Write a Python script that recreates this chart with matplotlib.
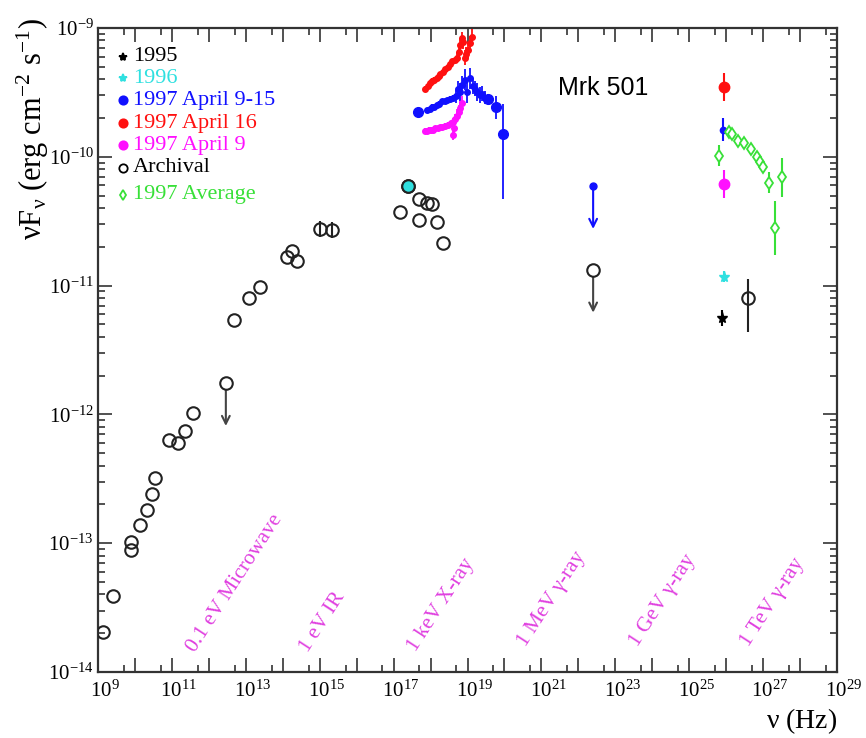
import numpy as np
import matplotlib
matplotlib.use('Agg')
import matplotlib.pyplot as plt
import matplotlib.transforms as mtransforms
from matplotlib.ticker import FixedLocator, FuncFormatter, LogLocator, NullFormatter

plt.rcParams['font.family'] = ['Liberation Serif', 'DejaVu Serif']
plt.rcParams['mathtext.fontset'] = 'stix'

RED = '#ff1010'
BLUE = '#1010ff'
MAGENTA = '#ff10ff'
CYAN = '#30e0e0'
GREEN = '#38e038'
BAND = '#e040e0'

# all values as log10(nu / Hz) and log10(nuFnu / erg cm^-2 s^-1)
arch_lognu = [9.14, 9.41, 9.89, 9.89, 10.14, 10.33, 10.46, 10.54, 10.92, 11.17,
              11.35, 11.57, 12.68, 13.09, 13.38, 14.12, 14.25, 14.39, 15.01, 15.33,
              17.17, 17.39, 17.69, 17.90, 18.04, 17.69, 18.17, 18.34, 26.59]
arch_logf = [-13.69, -13.41, -12.99, -13.05, -12.86, -12.74, -12.62, -12.49, -12.20, -12.22,
             -12.13, -11.99, -11.27, -11.10, -11.01, -10.78, -10.73, -10.81, -10.56, -10.57,
             -10.43, -10.23, -10.33, -10.36, -10.37, -10.49, -10.51, -10.67, -11.10]
arch_err_lo = [0] * 18 + [0.06, 0.06] + [0] * 8 + [0.26]
arch_err_hi = [0] * 18 + [0.06, 0.06] + [0] * 8 + [0.15]

# upper limits
ul_lognu = [12.46, 22.40]
ul_logf = [-11.76, -10.88]
ul_blue_lognu = [22.40]
ul_blue_logf = [-10.23]
ul_len = 0.33

# 1996 X-ray point (cyan) on top of the archival one
x96_lognu = [17.39]
x96_logf = [-10.23]

# 1997 X-ray spectra
red_x_lognu = [17.85, 17.92, 17.98, 18.04, 18.09, 18.17, 18.22, 18.26, 18.34, 18.40,
               18.47, 18.53, 18.58, 18.66, 18.72, 18.76, 18.80, 18.85, 18.88, 18.93,
               18.97, 19.01, 19.07, 19.12]
red_x_logf = [-9.47, -9.45, -9.43, -9.41, -9.40, -9.39, -9.37, -9.36, -9.34, -9.32,
              -9.30, -9.28, -9.26, -9.25, -9.23, -9.19, -9.13, -9.08, -9.11, -9.23,
              -9.20, -9.17, -9.12, -9.07]
red_x_err = [0.02] * 14 + [0.04, 0.04, 0.05, 0.05, 0.05, 0.06, 0.05, 0.06, 0.06, 0.06]

blue_x_lognu = [17.66, 17.90, 17.98, 18.04, 18.10, 18.17, 18.24, 18.31, 18.38, 18.45,
                18.53, 18.61, 18.68, 18.74, 18.80, 18.85, 18.93, 18.99, 19.07, 19.14,
                19.20, 19.27, 19.34, 19.40, 19.47]
blue_x_logf = [-9.65, -9.64, -9.63, -9.61, -9.61, -9.60, -9.59, -9.57, -9.57, -9.56,
               -9.55, -9.54, -9.53, -9.47, -9.50, -9.44, -9.40, -9.50, -9.39, -9.45,
               -9.47, -9.50, -9.52, -9.51, -9.54]
blue_x_err = [0.02] * 12 + [0.05, 0.06, 0.07, 0.07, 0.08, 0.08, 0.08, 0.06, 0.06, 0.07,
                            0.06, 0.06, 0.05]

blue_big_lognu = [17.66, 19.55, 19.77, 19.96]
blue_big_logf = [-9.65, -9.55, -9.61, -9.82]
blue_big_err_lo = [0.0, 0.04, 0.10, 0.51]
blue_big_err_hi = [0.0, 0.04, 0.08, 0.23]

mag_x_lognu = [17.85, 17.91, 17.96, 18.02, 18.07, 18.13, 18.20, 18.26, 18.31, 18.38,
               18.47, 18.54, 18.61, 18.63, 18.62, 18.66, 18.72, 18.76, 18.80, 18.85]
mag_x_logf = [-9.80, -9.80, -9.79, -9.79, -9.79, -9.78, -9.78, -9.77, -9.77, -9.76,
              -9.75, -9.74, -9.73, -9.78, -9.83, -9.71, -9.68, -9.65, -9.62, -9.58]
mag_x_err = [0.02] * 12 + [0.03, 0.04, 0.04, 0.04, 0.05, 0.05, 0.05, 0.05]

# TeV points
tev95_lognu, tev95_logf, tev95_err = [25.89], [-11.25], [0.06]
tev96_lognu, tev96_logf, tev96_err = [25.94], [-10.93], [0.04]
tev_mag_lognu, tev_mag_logf, tev_mag_err = [25.94], [-10.21], [0.11]
tev_blue_lognu, tev_blue_logf, tev_blue_err = [25.92], [-9.79], [0.09]
tev_red_lognu, tev_red_logf, tev_red_err = [25.94], [-9.46], [0.11]

avg_lognu = [25.81, 26.07, 26.16, 26.32, 26.48, 26.67, 26.83, 26.92, 27.00, 27.16, 27.51, 27.32]
avg_logf = [-9.99, -9.81, -9.82, -9.88, -9.89, -9.94, -10.00, -10.04, -10.08, -10.20, -10.16, -10.55]
avg_err = [0.08, 0.02, 0.02, 0.02, 0.02, 0.02, 0.03, 0.03, 0.03, 0.08, 0.15, 0.21]

band_labels = ['0.1 eV Microwave', '1 eV IR', '1 keV X-ray', '1 MeV γ-ray', '1 GeV γ-ray', '1 TeV γ-ray']
band_lognu = [11.75, 14.79, 17.71, 20.69, 23.72, 26.72]
band_logf = [-13.87, -13.87, -13.87, -13.83, -13.83, -13.83]

leg_labels = ['1995', '1996', '1997 April 9-15', '1997 April 16', '1997 April 9', 'Archival', '1997 Average']
leg_colors = ['black', CYAN, BLUE, RED, MAGENTA, 'black', GREEN]
leg_markers = ['*', '*', 'o', 'o', 'o', 'o', 'd']
leg_filled = [True, True, True, True, True, False, False]


def pts(lognu, logf, elo=None, ehi=None):
    nu = 10.0 ** np.array(lognu)
    f = 10.0 ** np.array(logf)
    if elo is None:
        return nu, f, None
    if ehi is None:
        ehi = elo
    lo = f - f * 10.0 ** (-np.array(elo))
    hi = f * 10.0 ** np.array(ehi) - f
    return nu, f, [lo, hi]


fig = plt.figure(figsize=(8.66, 7.38), dpi=100)
ax = fig.add_axes([98 / 866, 1 - 672 / 738, 739 / 866, 644 / 738])
ax.set_xscale('log')
ax.set_yscale('log')
ax.set_xlim(1e9, 1e29)
ax.set_ylim(1e-14, 1e-9)

# X-ray spectra
for ln, lf, le, c in [(red_x_lognu, red_x_logf, red_x_err, RED),
                      (blue_x_lognu, blue_x_logf, blue_x_err, BLUE),
                      (mag_x_lognu, mag_x_logf, mag_x_err, MAGENTA)]:
    nu, f, err = pts(ln, lf, le)
    ax.errorbar(nu, f, yerr=err, fmt='o', ms=4, color=c, mec=c, elinewidth=1.3,
                capsize=0, zorder=3)
nu, f, err = pts(blue_big_lognu, blue_big_logf, blue_big_err_lo, blue_big_err_hi)
ax.errorbar(nu, f, yerr=err, fmt='o', ms=7, color=BLUE, elinewidth=1.3, capsize=0, zorder=3)

# archival
nu, f, err = pts(arch_lognu, arch_logf, arch_err_lo, arch_err_hi)
ax.errorbar(nu, f, yerr=err, fmt='o', ms=9, mfc='none', mec='#222222', mew=1.5,
            ecolor='#222222', elinewidth=1.5, capsize=0, zorder=4)
nu, f, _ = pts(x96_lognu, x96_logf)
ax.errorbar(nu, f, yerr=[f * 0.08, f * 0.1], fmt='o', ms=9, mfc=CYAN, mec='#222222',
            mew=1.5, ecolor=CYAN, elinewidth=1.5, capsize=0, zorder=4)

# upper limits
for ln, lf, c, mk in [(ul_lognu, ul_logf, '#444444', 'o'), (ul_blue_lognu, ul_blue_logf, BLUE, 'b')]:
    nu, f, _ = pts(ln, lf)
    for n0, f0 in zip(nu, f):
        ax.annotate('', xy=(n0, f0 * 10 ** (-ul_len)), xytext=(n0, f0),
                    arrowprops=dict(arrowstyle='->', color=c, lw=1.5,
                                    shrinkA=0, shrinkB=0, mutation_scale=14))
    if mk == 'o':
        ax.plot(nu, f, 'o', ms=9, mfc='white', mec='#222222', mew=1.5, zorder=5)
    else:
        ax.plot(nu, f, 'o', ms=5, color=BLUE, zorder=5)

# TeV
for ln, lf, le, c, mk, ms in [(tev95_lognu, tev95_logf, tev95_err, 'black', '*', 8),
                              (tev96_lognu, tev96_logf, tev96_err, CYAN, '*', 8),
                              (tev_mag_lognu, tev_mag_logf, tev_mag_err, MAGENTA, 'o', 7.5),
                              (tev_blue_lognu, tev_blue_logf, tev_blue_err, BLUE, 'o', 4.5),
                              (tev_red_lognu, tev_red_logf, tev_red_err, RED, 'o', 7.5)]:
    nu, f, err = pts(ln, lf, le)
    ax.errorbar(nu, f, yerr=err, fmt=mk, ms=ms, color=c, elinewidth=1.5, capsize=0, zorder=4)

nu, f, err = pts(avg_lognu, avg_logf, avg_err)
ax.errorbar(nu, f, yerr=err, fmt='d', ms=6.5, mfc='white', mec=GREEN, mew=1.3,
            ecolor=GREEN, elinewidth=1.5, capsize=0, zorder=5)

# band labels
for lab, ln, lf in zip(band_labels, band_lognu, band_logf):
    ax.text(10 ** ln, 10 ** lf, lab, color=BAND, fontsize=15.5, rotation=57,
            rotation_mode='anchor', ha='left', va='bottom')

# legend drawn by hand, ROOT style
leg_y = [0.955, 0.922, 0.888, 0.852, 0.818, 0.783, 0.741]
for lab, c, mk, filled, y in zip(leg_labels, leg_colors, leg_markers, leg_filled, leg_y):
    ax.plot([0.034], [y], mk, transform=ax.transAxes, ms=6 if mk != 'd' else 5,
            color=c, mfc=c if filled else 'white', mec=c, mew=1.3, clip_on=False)
    ax.text(0.047, y, lab, transform=ax.transAxes, color=c, fontsize=16,
            ha='left', va='center')

ax.text(0.622, 0.907, 'Mrk 501', transform=ax.transAxes, fontsize=18,
        family='Liberation Sans', ha='left', va='center')

# axes and ticks
ax.xaxis.set_major_locator(FixedLocator(10.0 ** np.arange(9, 30)))
ax.xaxis.set_minor_locator(FixedLocator(5 * 10.0 ** np.arange(9, 29)))


def xfmt(v, pos):
    e = int(round(np.log10(v)))
    return r'$\mathregular{10^{%d}}$' % e if e % 2 == 1 else ''


ax.xaxis.set_major_formatter(FuncFormatter(xfmt))
ax.xaxis.set_minor_formatter(NullFormatter())
ax.yaxis.set_major_locator(LogLocator(base=10, numticks=10))
ax.yaxis.set_minor_locator(LogLocator(base=10, subs=np.arange(2, 10), numticks=10))
ax.yaxis.set_major_formatter(FuncFormatter(lambda v, p: r'$\mathregular{10^{%d}}$' % int(round(np.log10(v)))))
ax.yaxis.set_minor_formatter(NullFormatter())
ax.tick_params(which='both', direction='in', top=True, right=True, width=1.2,
               color='#333333', labelsize=15)
ax.tick_params(which='major', length=10)
ax.tick_params(which='minor', length=5)
ax.tick_params(axis='x', pad=6)
ax.tick_params(axis='y', pad=3)
for s in ax.spines.values():
    s.set_linewidth(1.6)
    s.set_color('#333333')

offset = mtransforms.ScaledTranslation(7 / 100, 0, fig.dpi_scale_trans)
for lbl in ax.get_xticklabels():
    lbl.set_transform(lbl.get_transform() + offset)

fig.text(33 / 866, 1 - 18 / 738,
         r'$\mathregular{\nu F_{\nu}}$ (erg cm$^{\mathregular{-2}}$ s$^{\mathregular{-1}}$)',
         rotation=90, ha='center', va='top', fontsize=22)
ax.text(1.0, -0.076, r'$\mathregular{\nu}$ (Hz)', transform=ax.transAxes,
        ha='right', va='center', fontsize=20)

fig.savefig('out.png', dpi=100)
